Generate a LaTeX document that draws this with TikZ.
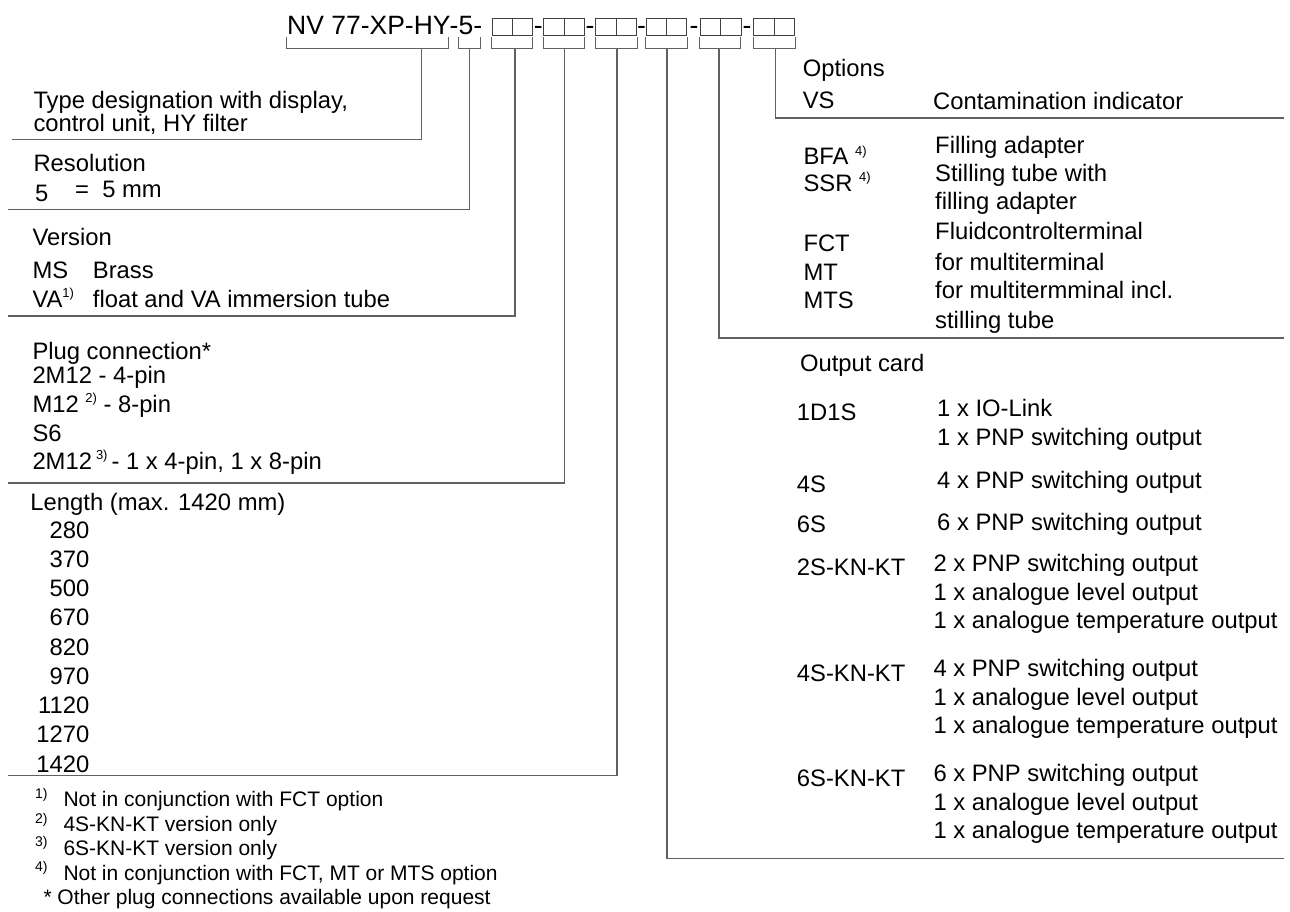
\documentclass[tikz,border=0pt]{standalone}
\usepackage{fontspec}
\setmainfont{Liberation Sans}
\newcommand\supx[1]{\raisebox{0.42em}{\fontsize{13}{13}\selectfont #1}}
\begin{document}
\begin{tikzpicture}[x=1pt,y=-1pt,
  txt/.style={anchor=base west, inner sep=0pt, font=\fontsize{23.8}{28}\selectfont},
  txtr/.style={anchor=base east, inner sep=0pt, font=\fontsize{23.8}{28}\selectfont},
  fn/.style={anchor=base west, inner sep=0pt, font=\fontsize{21}{25}\selectfont},
  fnsup/.style={anchor=base west, inner sep=0pt, font=\fontsize{14}{14}\selectfont},
  hdr/.style={anchor=base west, inner sep=0pt, font=\fontsize{26.5}{30}\selectfont},
  hdrc/.style={anchor=base, inner sep=0pt, font=\fontsize{26.5}{30}\selectfont},
  ln/.style={draw=black!62, line width=1.3pt},
  brk/.style={draw=black!62, line width=1.1pt},
  sq/.style={draw=black!75, line width=1.1pt}]
\useasboundingbox (0,0) rectangle (1290,912);

% ---------- header ----------
\node[hdr] (hname) at (287,35) {NV 77-XP-HY};
\node[hdr] (hres) at (449.5,35) {-5-};
\foreach \x/\n in {492.1/p1,543.8/p2,595.8/p3,646.1/p4,700.5/p5,753.9/p6}{
  \draw[sq] (\x,18.3) rectangle (\x+20.3,35.7);
  \draw[sq] (\x+20.3,18.3) rectangle (\x+40.6,35.7);
}
\foreach \x/\n in {538.3/d1,590.1/d2,641.6/d3,694.1/d4,747/d5}{
  \node[hdrc] (\n) at (\x,35) {-};
}

% brackets
\foreach \a/\b in {286.5/448.4,458.7/480.8,491.4/532.8,543.1/584.4,595.8/637.1,645.4/687.7,699.8/740.1,753.9/795.9}{
  \draw[brk] (\a,37) -- (\a,48.3) -- (\b,48.3) -- (\b,37);
}

% stem coordinates
\coordinate (s1) at (421.5,48.3);
\coordinate (s2) at (469.7,48.3);
\coordinate (s3) at (514.9,48.3);
\coordinate (s4) at (564.4,48.3);
\coordinate (s5) at (617.1,48.3);
\coordinate (s6) at (667.1,48.3);
\coordinate (s7) at (719.1,48.3);
\coordinate (s8) at (775.2,48.3);
% line ends
\coordinate (e1) at (11.7,139.3);
\coordinate (e2) at (8.3,209.3);
\coordinate (e3) at (8.3,316);
\coordinate (e4) at (8.3,483);
\coordinate (e5) at (8.3,775.7);
\coordinate (e6) at (1284,858.3);
\coordinate (e7) at (1284,338);
\coordinate (e8) at (1284,118);

\draw[ln] (s1) |- (e1);
\draw[ln] (s2) |- (e2);
\draw[ln] (s3) |- (e3);
\draw[ln] (s4) |- (e4);
\draw[ln] (s5) |- (e5);
\draw[ln] (s6) |- (e6);
\draw[ln] (s7) |- (e7);
\draw[ln] (s8) |- (e8);

% ---------- left column ----------
\node[txt] (type1) at (33.3,108.5) {Type designation with display,};
\node[txt] (type2) at (33.3,131.5) {control unit, HY filter};

\node[txt] (res) at (33.3,171.7) {Resolution};
\node[txt] (res5) at (35,201.7) {5};
\node[txt] (res5mm) at (75,197.7) {=\ \ 5 mm};

\node[txt] (ver) at (32.3,245) {Version};
\node[txt] (ms) at (32.3,278.3) {MS};
\node[txt] (msd) at (92.7,278.3) {Brass};
\node[txt] (va) at (32.3,307.3) {VA\supx{1)}};
\node[txt] (vad) at (92.7,307.3) {float and VA immersion tube};

\node[txt] (plug) at (32.3,359) {Plug connection*};
\node[txt] (p1) at (32.3,383) {2M12 - 4-pin};
\node[txt] (p2) at (32.3,412) {M12 \supx{2)} - 8-pin};
\node[txt] (p3) at (32.3,441) {S6};
\node[txt] (p4) at (32.3,469.5) {2M12\,\supx{3)}\,- 1 x 4-pin, 1 x 8-pin};

\node[txt] (len) at (30.3,510) {Length (max. 1420 mm)};
\foreach \v [count=\i from 0] in {280,370,500,670,820,970,1120,1270,1420}{
  \node[txtr] (l\v) at (89.6,538+29.25*\i) {\v};
}

% footnotes
\node[fnsup] (f1s) at (35,798) {1)};
\node[fn] (f1) at (63.3,806.7) {Not in conjunction with FCT option};
\node[fnsup] (f2s) at (35,823) {2)};
\node[fn] (f2) at (63.3,831.7) {4S-KN-KT version only};
\node[fnsup] (f3s) at (35,846.5) {3)};
\node[fn] (f3) at (63.3,855) {6S-KN-KT version only};
\node[fnsup] (f4s) at (35,871.5) {4)};
\node[fn] (f4) at (63.3,880) {Not in conjunction with FCT, MT or MTS option};
\node[fn] (f5) at (43.3,904) {* Other plug connections available upon request};

% ---------- right column ----------
\node[txt] (opt) at (802.6,77) {Options};
\node[txt] (vs) at (802.6,109) {VS};
\node[txt] (vsd) at (933,110) {Contamination indicator};

\node[txt] (bfa) at (803.3,165) {BFA \supx{4)}};
\node[txt] (ssr) at (803.3,191.7) {SSR \supx{4)}};
\node[txt] (fct) at (803.3,251.7) {FCT};
\node[txt] (mt) at (803.3,280) {MT};
\node[txt] (mts) at (803.3,308.3) {MTS};
\node[txt] (o1) at (935,153.3) {Filling adapter};
\node[txt] (o2) at (935,181.7) {Stilling tube with};
\node[txt] (o3) at (935,210) {filling adapter};
\node[txt] (o4) at (935,240) {Fluidcontrolterminal};
\node[txt] (o5) at (935,270) {for multiterminal};
\node[txt] (o6) at (935,298.3) {for multitermminal incl.};
\node[txt] (o7) at (935,328.3) {stilling tube};

\node[txt] (oc) at (799.8,371.7) {Output card};
\node[txt] (c1) at (796.7,420) {1D1S};
\node[txt] (c1a) at (937,416.7) {1 x IO-Link};
\node[txt] (c1b) at (937,445) {1 x PNP switching output};
\node[txt] (c2) at (796.7,492.7) {4S};
\node[txt] (c2a) at (937,488.3) {4 x PNP switching output};
\node[txt] (c3) at (796.7,532.7) {6S};
\node[txt] (c3a) at (937,530) {6 x PNP switching output};
\node[txt] (c4) at (796.7,575.5) {2S-KN-KT};
\node[txt] (c4a) at (933.3,571.7) {2 x PNP switching output};
\node[txt] (c4b) at (933.3,600) {1 x analogue level output};
\node[txt] (c4c) at (933.3,628.3) {1 x analogue temperature output};
\node[txt] (c5) at (796.7,681.7) {4S-KN-KT};
\node[txt] (c5a) at (933.3,676.7) {4 x PNP switching output};
\node[txt] (c5b) at (933.3,705) {1 x analogue level output};
\node[txt] (c5c) at (933.3,733.3) {1 x analogue temperature output};
\node[txt] (c6) at (796.7,786.7) {6S-KN-KT};
\node[txt] (c6a) at (933.3,781.7) {6 x PNP switching output};
\node[txt] (c6b) at (933.3,810) {1 x analogue level output};
\node[txt] (c6c) at (933.3,838.3) {1 x analogue temperature output};
\end{tikzpicture}
\end{document}
